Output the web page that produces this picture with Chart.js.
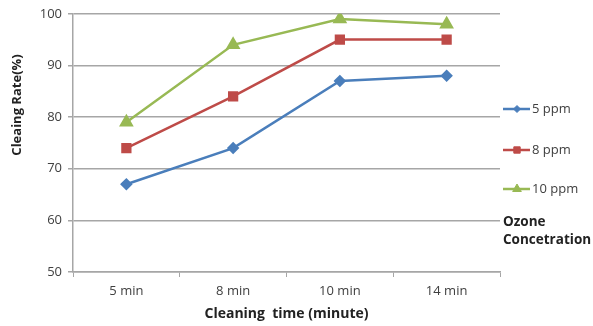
<!DOCTYPE html>
<html>
  <head>
    <meta charset="utf-8">
    <title>Cleaning rate</title>
    <script src="https://cdn.jsdelivr.net/npm/chart.js@4.4.1/dist/chart.umd.min.js"></script>
    <style>
      html, body { margin: 0; padding: 0; background: #fff; }
      #wrap { width: 593px; height: 326px; position: relative; }
    </style>
  </head>
  <body>
    <div id="wrap"><canvas id="chart1"></canvas></div>
    <script>
      var categories = ['5 min', '8 min', '10 min', '14 min'];
      var yTicks = [50, 60, 70, 80, 90, 100];
      var seriesNames = ['5 ppm', '8 ppm', '10 ppm'];
      var ppm5  = [67, 74, 87, 88];
      var ppm8  = [74, 84, 95, 95];
      var ppm10 = [79, 94, 99, 98];

      var FONT = '"Open Sans", Lato, sans-serif';
      var TXT = '#404040';

      // legend (line + marker) and y title drawn by hand, like the original
      var sideLegend = {
        id: 'sideLegend',
        afterDraw: function(chart) {
          var ctx = chart.ctx;
          var x0 = 503, ys = [109, 150, 189];
          ctx.save();
          chart.data.datasets.forEach(function(ds, i) {
            var y = ys[i];
            ctx.strokeStyle = ds.borderColor;
            ctx.lineWidth = 2.5;
            ctx.beginPath(); ctx.moveTo(x0, y); ctx.lineTo(x0 + 27, y); ctx.stroke();
            ctx.fillStyle = ds.borderColor;
            ctx.lineWidth = 1;
            Chart.helpers.drawPoint(ctx, {pointStyle: ds.pointStyle, radius: ds.pointRadius - 1, rotation: 0, borderWidth: 1}, x0 + 14, y);
            ctx.fillStyle = TXT;
            ctx.font = '13px ' + FONT;
            ctx.textBaseline = 'middle';
            ctx.textAlign = 'left';
            ctx.fillText(ds.label, x0 + 29, y);
          });
          ctx.fillStyle = '#222';
          ctx.font = 'bold 13.5px ' + FONT;
          ctx.fillText('Ozone', 503, 222);
          ctx.fillText('Concetration', 503, 240);

          ctx.translate(17, 105);
          ctx.rotate(-Math.PI / 2);
          ctx.textAlign = 'center';
          ctx.font = 'bold 13px ' + FONT;
          ctx.fillText('Cleaing Rate(%)', 0, 0);
          ctx.restore();
        }
      };

      function mk(label, data, color, style, r) {
        return {
          label: label, data: data,
          borderColor: color, backgroundColor: color,
          pointBackgroundColor: color, pointBorderColor: color,
          borderWidth: 2.5, pointStyle: style, pointRadius: r,
          pointHoverRadius: r, tension: 0
        };
      }

      new Chart(document.getElementById('chart1'), {
        type: 'line',
        data: {
          labels: categories,
          datasets: [
            mk(seriesNames[0], ppm5, '#4A7EBB', 'rectRot', 4.5),
            mk(seriesNames[1], ppm8, '#BE4B48', 'rect', 5.5),
            mk(seriesNames[2], ppm10, '#98B954', 'triangle', 6)
          ]
        },
        options: {
          responsive: true,
          maintainAspectRatio: false,
          animation: false,
          layout: { padding: { top: 13, right: 93, left: 0, bottom: 0 } },
          plugins: { legend: { display: false }, tooltip: { enabled: false } },
          scales: {
            x: {
              offset: true,
              grid: { drawOnChartArea: false, drawTicks: true, tickLength: 5, color: '#a6a6a6', offset: true },
              border: { color: '#a6a6a6', width: 1.5 },
              ticks: { color: TXT, font: { family: FONT, size: 13 }, padding: 6 },
              title: { display: true, text: 'Cleaning  time (minute)', color: '#222', font: { family: FONT, size: 14, weight: 'bold' }, padding: { top: 6 } },
              afterFit: function(s) { s.height = 54; }
            },
            y: {
              min: yTicks[0], max: yTicks[yTicks.length - 1],
              afterBuildTicks: function(s) { s.ticks = yTicks.map(function(v) { return {value: v}; }); },
              grid: { color: '#a6a6a6', lineWidth: 1.5, tickLength: 5 },
              border: { color: '#a6a6a6', width: 1.5 },
              ticks: { color: TXT, font: { family: FONT, size: 13 }, padding: 6 },
              title: { display: false },
              afterFit: function(s) { s.width = 73; }
            }
          }
        },
        plugins: [sideLegend]
      });
    </script>
  </body>
</html>
